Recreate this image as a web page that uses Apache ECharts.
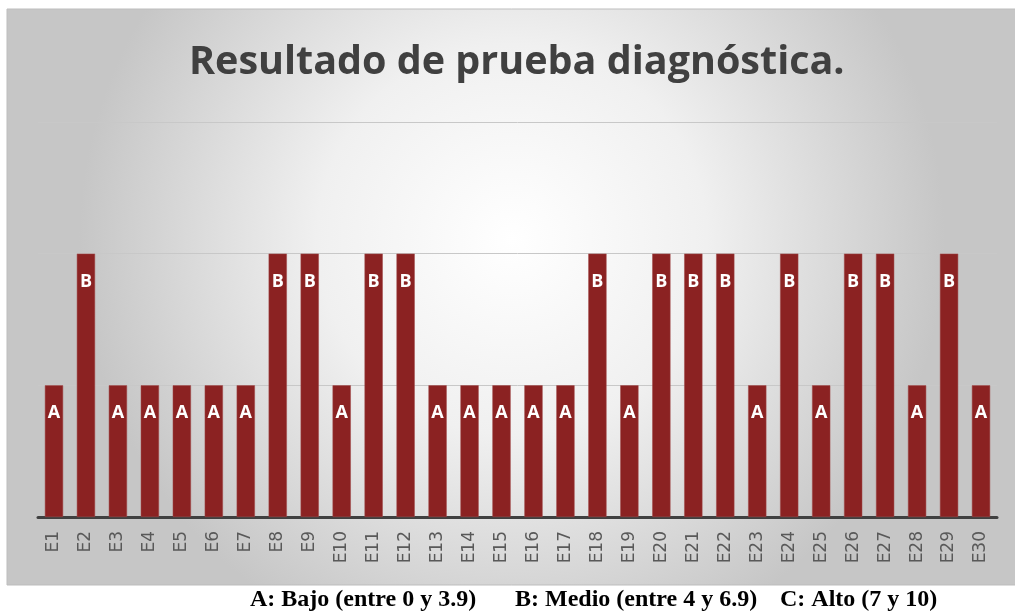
<!DOCTYPE html>
<html><head><meta charset="utf-8">
<script src="https://cdn.jsdelivr.net/npm/echarts@6/dist/echarts.min.js"></script>
<style>html,body{margin:0;padding:0;background:#fff}#c{width:1015px;height:613px}</style>
</head><body><div id="c"></div>
<script>
const categories = ['E1','E2','E3','E4','E5','E6','E7','E8','E9','E10','E11','E12','E13','E14','E15','E16','E17','E18','E19','E20','E21','E22','E23','E24','E25','E26','E27','E28','E29','E30'];
const levels = ['A','B','A','A','A','A','A','B','B','A','B','B','A','A','A','A','A','B','A','B','B','B','A','B','A','B','B','A','B','A'];
const levelValues = {A:1, B:2, C:3};
const values = levels.map(l => levelValues[l]);
const legendText = ['A: Bajo (entre 0 y 3.9)', 'B: Medio (entre 4 y 6.9)', 'C: Alto (7 y 10)'];

const chart = echarts.init(document.getElementById('c'), null, {renderer:'canvas'});
chart.setOption({
  animation:false,
  backgroundColor:'#ffffff',
  graphic:[
    {type:'rect', z:-10, shape:{x:7,y:9,width:1010,height:576},
     style:{fill:{type:'radial', x:0.5, y:0.4, r:0.75, colorStops:[{offset:0,color:'#ffffff'},{offset:0.45,color:'#f0f0f0'},{offset:1,color:'#c6c6c6'}]},
     stroke:'#bdbdbd', lineWidth:1}},
    {type:'text', left:189, top:43, z:10,
     style:{text:'Resultado de prueba diagnóstica.', font:'bold 39.5px "Open Sans", sans-serif', fill:'#404040'}},
    {type:'text', left:250, top:588, z:10,
     style:{text:legendText[0], font:'bold 24px "Liberation Serif", serif', fill:'#000'}},
    {type:'text', left:515, top:588, z:10,
     style:{text:legendText[1], font:'bold 24px "Liberation Serif", serif', fill:'#000'}},
    {type:'text', left:780, top:588, z:10,
     style:{text:legendText[2], font:'bold 24px "Liberation Serif", serif', fill:'#000'}}
  ],
  grid:{left:38, right:18, top:122, bottom:96, containLabel:false},
  xAxis:{type:'category', data:categories,
    axisLine:{lineStyle:{color:'#404040', width:3}},
    axisTick:{show:false},
    axisLabel:{rotate:90, color:'#595959', fontSize:17, fontFamily:'"DejaVu Sans", sans-serif', margin:14}},
  yAxis:{type:'value', min:0, max:3, interval:1,
    axisLabel:{show:false}, axisLine:{show:false}, axisTick:{show:false},
    splitLine:{lineStyle:{color:'#c8c8c8', width:1}}},
  series:[{type:'bar', data:values, barWidth:'57%',
    itemStyle:{color:'#8b2222', borderColor:'#a04848', borderWidth:0.5},
    label:{show:true, position:'insideTop', distance:19,
      formatter:p => levels[p.dataIndex],
      color:'#ffffff', fontWeight:'bold', fontSize:18, fontFamily:'"Open Sans", sans-serif'}}]
});
</script></body></html>
